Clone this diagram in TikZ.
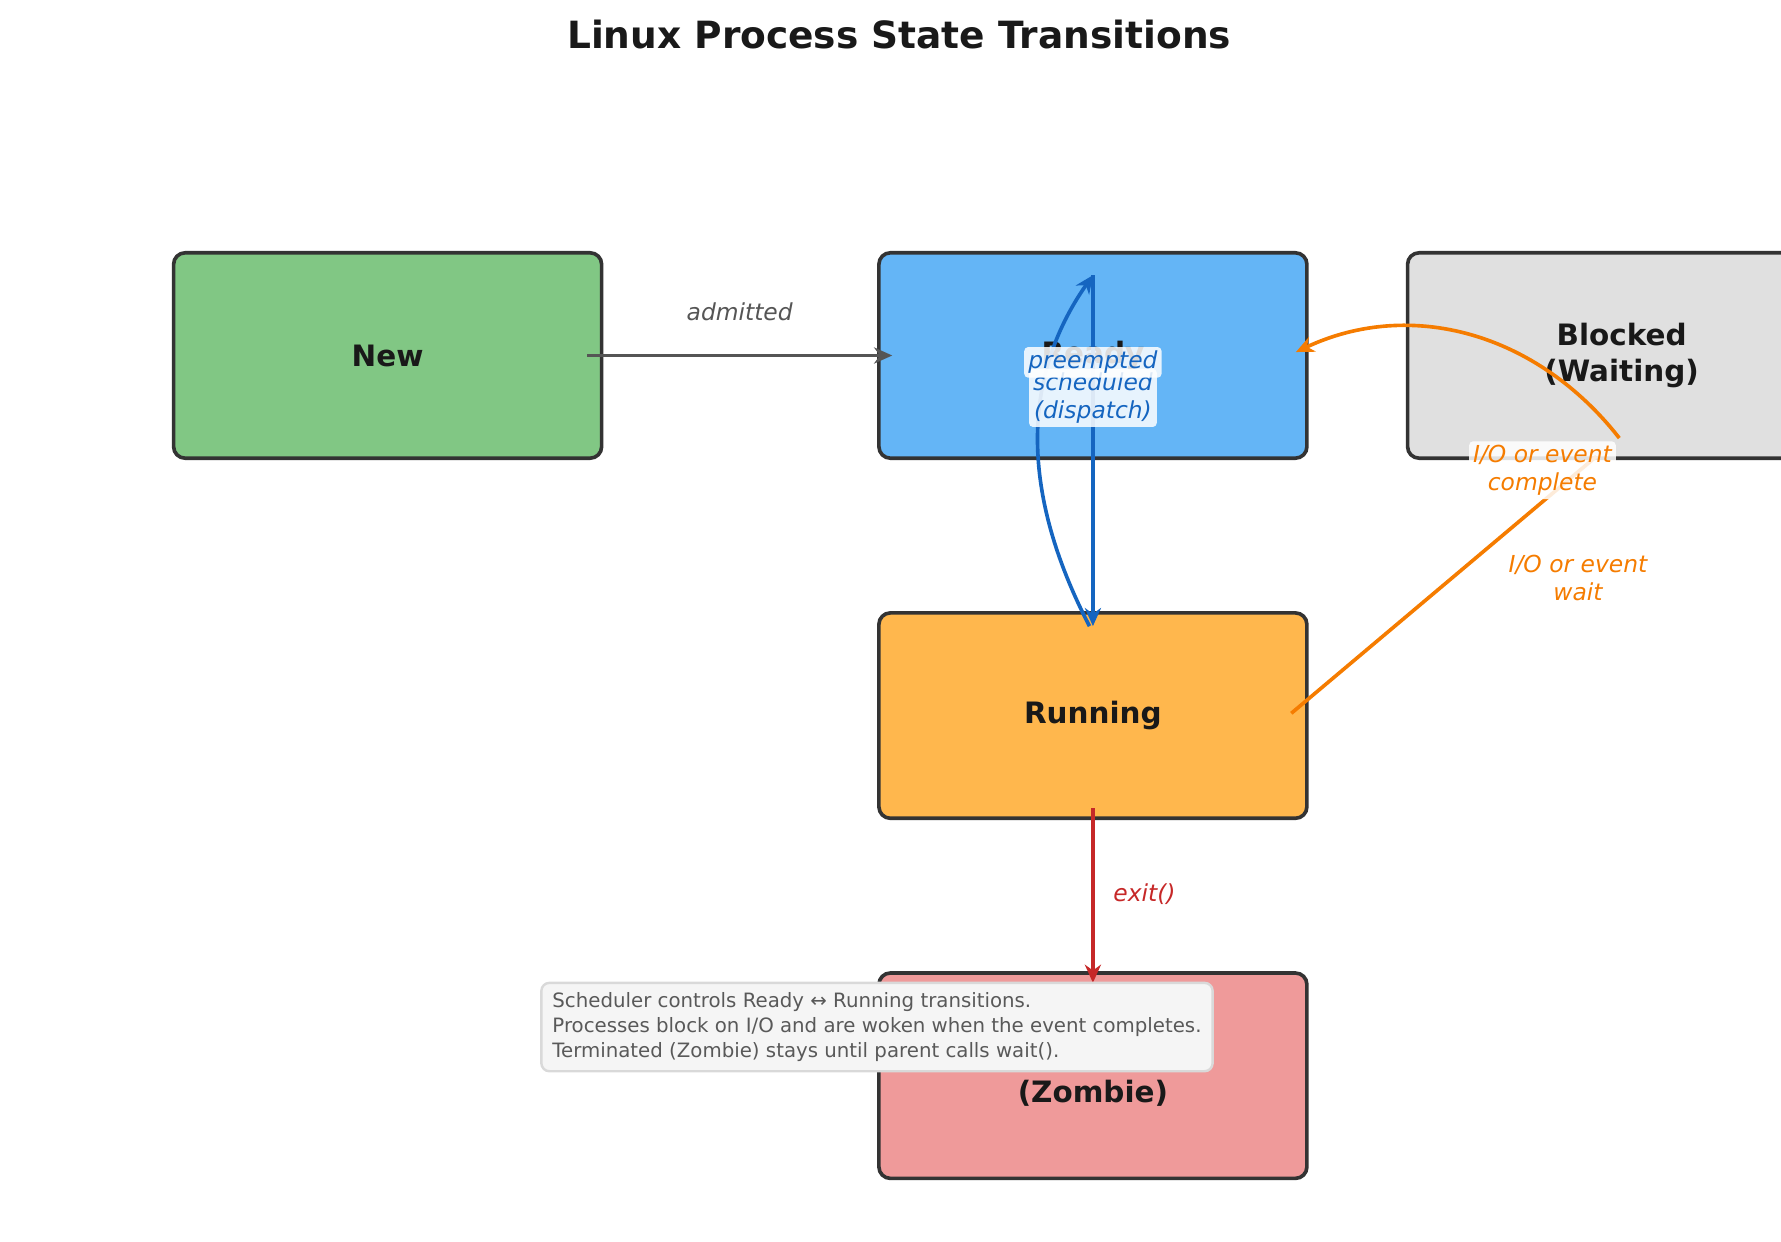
\documentclass[tikz,border=0pt]{standalone}
\usepackage{fontspec}
\setmainfont{DejaVu Sans}
\usetikzlibrary{positioning,arrows.meta}
\begin{document}
\begin{tikzpicture}[x=0.01cm,y=-0.01cm,
    state/.style={draw=edge,line width=0.9pt,rounded corners=0.1cm,minimum width=3.73cm,minimum height=1.79cm,font=\fontsize{7.3}{8.8}\selectfont\bfseries,text=black!90,align=center},
    trans/.style={line width=0.9pt,-{Stealth[length=4.5pt,width=4pt]}},
    lbl/.style={font=\fontsize{5.8}{6.8}\selectfont\itshape,align=center,inner sep=1pt},
    boxed/.style={lbl,fill=white,fill opacity=0.85,text opacity=1,rounded corners=1pt}]
    %colores
    \definecolor{edge}{HTML}{333333}
    \definecolor{cnew}{HTML}{81C784}
    \definecolor{cready}{HTML}{64B5F6}
    \definecolor{crun}{HTML}{FFB74D}
    \definecolor{cblock}{HTML}{E0E0E0}
    \definecolor{czomb}{HTML}{EF9A9A}
    \definecolor{bblue}{HTML}{1565C0}
    \definecolor{oorange}{HTML}{F57C00}
    \definecolor{rred}{HTML}{C62828}
    \definecolor{ggray}{HTML}{555555}

    \useasboundingbox (0,0) rectangle (1553,1083);
    \node[font=\fontsize{9.3}{11}\selectfont\bfseries,text=black!90] (title) at (784,30) {Linux Process State Transitions};

    % Estados
    \node[state,fill=cnew] (new) at (338,310) {New};
    \node[state,fill=cready] (ready) at (953,310) {Ready};
    \node[state,fill=cblock] (blocked) at (1414,310) {Blocked\\(Waiting)};
    \node[state,fill=crun] (running) at (953,624) {Running};
    \node[state,fill=czomb] (zombie) at (953,938) {Terminated\\(Zombie)};

    % Puntos de las flechas
    \coordinate (nout) at (512,310);
    \coordinate (rin) at (778,310);
    \coordinate (rtop) at (953,240);
    \coordinate (rbot) at (953,546);
    \coordinate (rbot2) at (950,546);
    \coordinate (rright) at (1130,307);
    \coordinate (bout) at (1412,382);
    \coordinate (bin) at (1392,398);
    \coordinate (uright) at (1126,622);
    \coordinate (ubot) at (953,705);
    \coordinate (ztop) at (953,857);

    % Transiciones
    \draw[trans,ggray] (nout) -- (rin);
    \node[lbl,text=ggray] (ladm) at (645,272) {admitted};
    \draw[trans,bblue] (rtop) -- (rbot);
    \draw[trans,bblue] (rbot2) .. controls (890,430) and (890,330) .. (rtop);
    \draw[line width=0.9pt,oorange] (uright) -- (bin);
    \draw[trans,oorange] (bout) .. controls (1340,290) and (1230,260) .. (rright);
    \draw[trans,rred] (ubot) -- (ztop);

    % Etiquetas
    \node[boxed,text=bblue] (lsch) at (953,347) {scheduled\\(dispatch)};
    \node[boxed,text=bblue] (lpre) at (953,316) {preempted};
    \node[lbl,text=oorange] (lwait) at (1376,504) {I/O or event\\wait};
    \node[boxed,text=oorange] (lcomp) at (1345,410) {I/O or event\\complete};
    \node[lbl,text=rred] (lexit) at (998,780) {exit()};

    % Nota
    \node[draw=black!15,fill=black!4,line width=0.6pt,rounded corners=2pt,font=\fontsize{4.9}{6.1}\selectfont,text=black!65,align=left,anchor=north west,minimum width=5.85cm,minimum height=0.77cm,inner sep=2pt] (note) at (471,856)
      {Scheduler controls Ready \char"2194{} Running transitions.\\Processes block on I/O and are woken when the event completes.\\Terminated (Zombie) stays until parent calls wait().};
\end{tikzpicture}
\end{document}
